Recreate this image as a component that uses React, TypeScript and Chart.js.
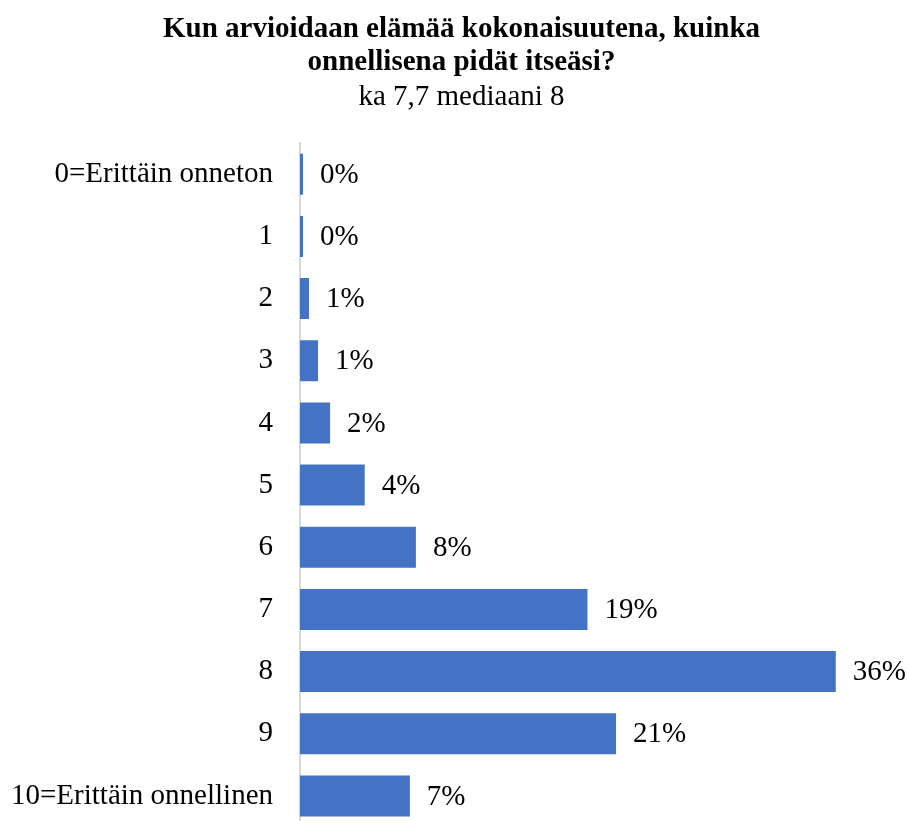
import React, { useEffect, useRef } from "react";
import { Chart, registerables } from "chart.js";

Chart.register(...registerables);

const categories = [
  "0=Erittäin onneton",
  "1",
  "2",
  "3",
  "4",
  "5",
  "6",
  "7",
  "8",
  "9",
  "10=Erittäin onnellinen",
];
const values = [0.2, 0.2, 0.6, 1.2, 2.0, 4.3, 7.7, 19.1, 35.6, 21.0, 7.3];
const valueLabels = ["0%", "0%", "1%", "1%", "2%", "4%", "8%", "19%", "36%", "21%", "7%"];
const titleLines = ["Kun arvioidaan elämää kokonaisuutena, kuinka", "onnellisena pidät itseäsi?"];
const subtitleText = "ka 7,7 mediaani 8";

const FONT = "'Liberation Serif', 'Times New Roman', serif";
const CANVAS_H = 827;

const labelPlugin = {
  id: "valueLabels",
  afterLayout(chart: any) {
    // let long category labels extend into the left padding instead of being clipped
    chart.scales.y.left = 0;
  },
  afterDatasetsDraw(chart: any) {
    const ctx = chart.ctx;
    const meta = chart.getDatasetMeta(0);
    ctx.save();
    ctx.font = `29px ${FONT}`;
    ctx.fillStyle = "#000000";
    ctx.textAlign = "left";
    ctx.textBaseline = "middle";
    meta.data.forEach((bar: any, i: number) => {
      ctx.fillText(valueLabels[i], bar.x + 17, bar.y + 1);
    });
    ctx.restore();
  },
};

export default function App() {
  const ref = useRef<HTMLCanvasElement>(null);
  useEffect(() => {
    if (!ref.current) return;
    const chart = new Chart(ref.current, {
      type: "bar",
      data: {
        labels: categories,
        datasets: [
          {
            data: values,
            backgroundColor: "#4472C4",
            borderWidth: 0,
            barPercentage: 0.66,
            categoryPercentage: 1,
          },
        ],
      },
      options: {
        indexAxis: "y",
        animation: false,
        responsive: false,
        maintainAspectRatio: false,
        devicePixelRatio: 1,
        layout: { padding: { top: 0, right: 5, bottom: 0, left: 21 } },
        plugins: {
          legend: { display: false },
          tooltip: { enabled: false },
          title: {
            display: true,
            text: titleLines,
            color: "#000000",
            font: { family: FONT, size: 29, weight: "bold", lineHeight: 1.14 },
            padding: { top: 13, bottom: 2 },
          },
          subtitle: {
            display: true,
            text: subtitleText,
            color: "#000000",
            font: { family: FONT, size: 29, weight: "normal", lineHeight: 1.14 },
            padding: { top: 0, bottom: 29 },
          },
        },
        scales: {
          x: {
            display: false,
            min: 0,
            max: 40,
          },
          y: {
            offset: true,
            grid: { display: false, drawTicks: false },
            border: { display: true, color: "#d9d9d9", width: 2 },
            ticks: {
              color: "#000000",
              font: { family: FONT, size: 29 },
              padding: 27,
            },
            afterFit(scale: any) {
              scale.width = 279;
              scale.paddingTop = 0;
              scale.paddingBottom = 0;
            },
          },
        },
      },
      plugins: [labelPlugin],
    });
    return () => chart.destroy();
  }, []);
  return (
    <div style={{ position: "absolute", left: 0, top: 0, width: 907, height: 821, overflow: "hidden", background: "#fff" }}>
      <canvas ref={ref} width={907} height={CANVAS_H} style={{ width: 907, height: CANVAS_H, display: "block" }} />
    </div>
  );
}
